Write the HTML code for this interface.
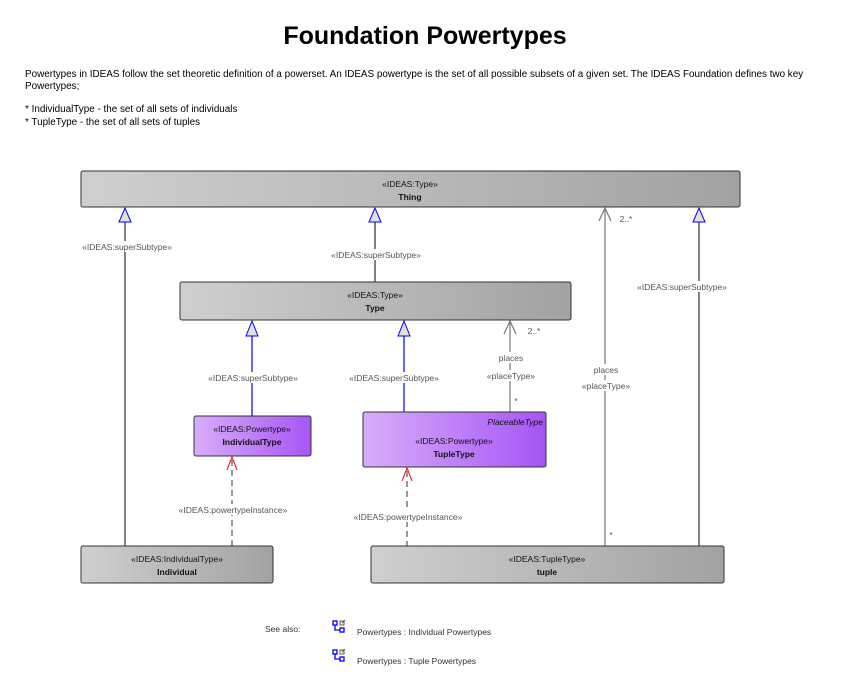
<!DOCTYPE html>
<html><head><meta charset="utf-8"><style>
body{margin:0;background:#fff;width:846px;height:682px;overflow:hidden;font-family:"Liberation Sans",sans-serif}
</style></head><body>
<svg width="846" height="682" xmlns="http://www.w3.org/2000/svg" font-family="Liberation Sans, sans-serif">
<defs>
<linearGradient id="g" x1="0" x2="1"><stop offset="0" stop-color="#cfcfcf"/><stop offset="1" stop-color="#a2a2a2"/></linearGradient>
<linearGradient id="p" x1="0" x2="1"><stop offset="0" stop-color="#d8adf9"/><stop offset="1" stop-color="#a655f6"/></linearGradient>
</defs>
<text x="425" y="44" font-size="25" font-weight="bold" text-anchor="middle">Foundation Powertypes</text>
<g font-size="9.9" fill="#000">
<text x="25" y="77">Powertypes in IDEAS follow the set theoretic definition of a powerset. An IDEAS powertype is the set of all possible subsets of a given set. The IDEAS Foundation defines two key</text>
<text x="25" y="89">Powertypes;</text>
<text x="25" y="112">* IndividualType - the set of all sets of individuals</text>
<text x="25" y="125">* TupleType - the set of all sets of tuples</text>
</g>
<g stroke="#000" stroke-width="1" fill="none">
<line x1="125" y1="222" x2="125" y2="546"/>
<line x1="375" y1="222" x2="375" y2="282"/>
<line x1="699" y1="222" x2="699" y2="546"/>
</g>
<g stroke="#0000ff" stroke-width="1.2" fill="none">
<line x1="252" y1="336" x2="252" y2="416"/>
<line x1="404" y1="336" x2="404" y2="412"/>
</g>
<g stroke="#0000ff" stroke-width="1" fill="#e0e0e0">
<polygon points="125,208 119,222 131,222"/>
<polygon points="375,208 369,222 381,222"/>
<polygon points="699,208 693,222 705,222"/>
<polygon points="252,321 246,336 258,336"/>
<polygon points="404,321 398,336 410,336"/>
</g>
<g stroke="#777" stroke-width="1.2" fill="none">
<line x1="510" y1="321" x2="510" y2="412"/>
<polyline points="504,334 510,321 516,334"/>
<line x1="605" y1="208" x2="605" y2="546"/>
<polyline points="599,221 605,208 611,221"/>
</g>
<g stroke="#333" stroke-width="1" stroke-dasharray="6,4" fill="none">
<line x1="232" y1="460" x2="232" y2="546"/>
<line x1="407" y1="471" x2="407" y2="546"/>
</g>
<g stroke="#e00" stroke-width="1" fill="none">
<polyline points="227,470 232,457 237,470"/>
<polyline points="402,481 407,468 412,481"/>
</g>
<g font-size="8.5" fill="#555" text-anchor="middle">
<rect x="85" y="241" width="84" height="11" fill="#fff"/>
<text x="127" y="250">«IDEAS:superSubtype»</text>
<rect x="328" y="249" width="96" height="11" fill="#fff"/>
<text x="376" y="258">«IDEAS:superSubtype»</text>
<rect x="634" y="281" width="96" height="11" fill="#fff"/>
<text x="682" y="290">«IDEAS:superSubtype»</text>
<rect x="205" y="372" width="96" height="11" fill="#fff"/>
<text x="253" y="381">«IDEAS:superSubtype»</text>
<rect x="346" y="372" width="96" height="11" fill="#fff"/>
<text x="394" y="381">«IDEAS:superSubtype»</text>
<rect x="495" y="352" width="32" height="11" fill="#fff"/>
<text x="511" y="361">places</text>
<rect x="485" y="370" width="52" height="11" fill="#fff"/>
<text x="511" y="379">«placeType»</text>
<text x="534" y="334">2..*</text>
<text x="516" y="404">*</text>
<rect x="590" y="364" width="32" height="11" fill="#fff"/>
<text x="606" y="373">places</text>
<rect x="580" y="380" width="52" height="11" fill="#fff"/>
<text x="606" y="389">«placeType»</text>
<text x="626" y="222">2..*</text>
<text x="611" y="538">*</text>
<rect x="175" y="504" width="116" height="11" fill="#fff"/>
<text x="233" y="513">«IDEAS:powertypeInstance»</text>
<rect x="350" y="511" width="116" height="11" fill="#fff"/>
<text x="408" y="520">«IDEAS:powertypeInstance»</text>
</g>
<g stroke="#333" stroke-width="1">
<rect x="81" y="171" width="659" height="36" rx="2" fill="url(#g)"/>
<rect x="180" y="282" width="391" height="38" rx="2" fill="url(#g)"/>
<rect x="194" y="416" width="117" height="40" rx="2" fill="url(#p)"/>
<rect x="363" y="412" width="183" height="55" rx="2" fill="url(#p)"/>
<rect x="81" y="546" width="192" height="37" rx="2" fill="url(#g)"/>
<rect x="371" y="546" width="353" height="37" rx="2" fill="url(#g)"/>
</g>
<g font-size="8.5" text-anchor="middle" fill="#111">
<text x="410" y="187">«IDEAS:Type»</text><text x="410" y="200" font-weight="bold">Thing</text>
<text x="375" y="298">«IDEAS:Type»</text><text x="375" y="311" font-weight="bold">Type</text>
<text x="252" y="432">«IDEAS:Powertype»</text><text x="252" y="445" font-weight="bold">IndividualType</text>
<text x="543" y="425" text-anchor="end" font-style="italic">PlaceableType</text>
<text x="454" y="444">«IDEAS:Powertype»</text><text x="454" y="457" font-weight="bold">TupleType</text>
<text x="177" y="562">«IDEAS:IndividualType»</text><text x="177" y="575" font-weight="bold">Individual</text>
<text x="547" y="562">«IDEAS:TupleType»</text><text x="547" y="575" font-weight="bold">tuple</text>
</g>
<g font-size="8.5" fill="#333">
<text x="265" y="632">See also:</text>
<text x="357" y="635">Powertypes : Individual Powertypes</text>
<text x="357" y="664">Powertypes : Tuple Powertypes</text>
</g>
<g stroke="#00f" stroke-width="1.3" fill="none">
<rect x="333" y="621" width="4" height="4"/><rect x="340" y="628" width="4" height="4"/><polyline points="335,625 335,630 340,630"/>
<rect x="333" y="650" width="4" height="4"/><rect x="340" y="657" width="4" height="4"/><polyline points="335,654 335,659 340,659"/>
</g>
<g stroke="#333" stroke-width="0.8" fill="none">
<rect x="340" y="621" width="4" height="4"/><line x1="342" y1="623" x2="345" y2="620"/>
<rect x="340" y="650" width="4" height="4"/><line x1="342" y1="652" x2="345" y2="649"/>
</g>
</svg>
</body></html>
